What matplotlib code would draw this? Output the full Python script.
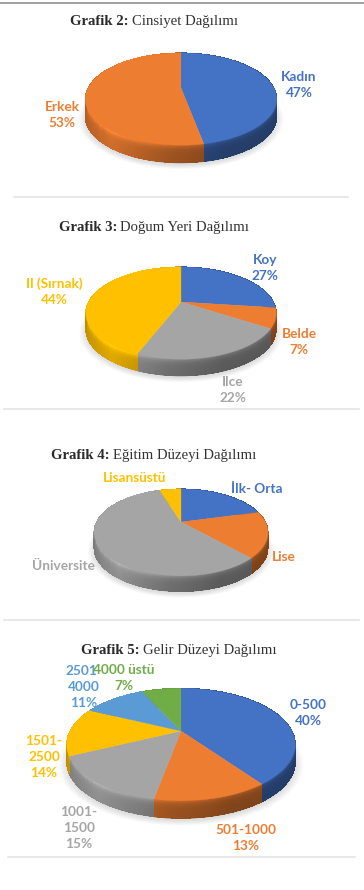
import matplotlib
matplotlib.use("Agg")
import matplotlib.pyplot as plt
import numpy as np
from matplotlib.collections import PolyCollection
from matplotlib.colors import to_rgb
from matplotlib.patches import Polygon

BLUE, ORANGE, GRAY, YELLOW, SKY, GREEN = "#4472C4", "#ED7D31", "#A5A5A5", "#FFC000", "#5B9BD5", "#70AD47"

gender_names = ["Kadın", "Erkek"]
gender_values = [47, 53]

birth_names = ["Koy", "Belde", "Ilce", "Il (Sırnak)"]
birth_values = [27, 7, 22, 44]

# this chart has no printed percentages, shares estimated from the slices
edu_names = ["İlk- Orta", "Lise", "Üniversite", "Lisansüstü"]
edu_values = [21, 17, 57, 5]

income_names = ["0-500", "501-1000", "1001-\n1500", "1501-\n2500", "2501-\n4000", "4000 üstü"]
income_values = [40, 13, 15, 14, 11, 7]

TILT = 0.24  # perspective strength of the disc


def disc_xy(t, cx, cy, r, b):
    """Clockwise angle from 12 o'clock to screen position on the tilted disc."""
    xx, yy = np.sin(t), np.cos(t)
    w = 1 + TILT * yy
    return cx + r * xx / w, cy - b * yy / w


def side_shade(xx):
    return np.interp(xx, [-1.0, -0.6, -0.1, 0.35, 1.0], [0.76, 0.9, 0.68, 0.56, 0.54])


def pie3d(ax, values, colors, cx, cy, r, b, depth):
    edges = np.r_[0, np.cumsum(values)] / np.sum(values) * 2 * np.pi

    # soft shadow under the disc
    tt = np.linspace(0, 2 * np.pi, 200)
    for grow in np.linspace(1.0, 1.07, 8):
        sx, sy = disc_xy(tt, cx, cy + depth + 2, r * grow, b * grow)
        ax.add_patch(Polygon(np.c_[sx, sy], fc="black", ec="none", alpha=0.014, zorder=1))

    # rim, cut in small quads so the shading can run along it; quads are not
    # antialiased (that gave stripes), a smooth underlay softens the lower edge
    quads, shades = [], []
    levels = np.linspace(0, depth - 0.5, 25)
    for i, col in enumerate(colors):
        n = max(int((edges[i + 1] - edges[i]) * 60), 2)
        tt = np.linspace(edges[i], edges[i + 1], n + 1)
        base = np.array(to_rgb(col))

        ux, uy = disc_xy(tt, cx, cy, r, b)
        shell = np.r_[np.c_[ux, uy], np.c_[ux, uy + depth][::-1]]
        ax.add_patch(Polygon(shell, fc=base * side_shade(np.sin(tt.mean())), ec="none", zorder=2))

        for t0, t1 in zip(tt[:-1], tt[1:]):
            x0, y0 = disc_xy(t0, cx, cy, r, b)
            x1, y1 = disc_xy(t1, cx, cy, r, b)
            f = side_shade(np.sin((t0 + t1) / 2))
            # paint from the bottom up, the bevel brightens toward the top edge
            for d0, d1 in zip(levels[-2::-1], levels[:0:-1]):
                k = 0.97 + 0.25 * np.exp(-d0 / 3.0)
                quads.append([(x0, y0 + d0), (x1, y1 + d0), (x1, y1 + d1), (x0, y0 + d1)])
                shades.append(np.clip(base * f * k, 0, 1))
    ax.add_collection(PolyCollection(quads, facecolors=shades, edgecolors="none", linewidths=0,
                                     antialiaseds=False, zorder=2.5))

    # top face
    for i, col in enumerate(colors):
        tt = np.linspace(edges[i], edges[i + 1], 120)
        px, py = disc_xy(tt, cx, cy, r, b)
        pts = np.r_[[(cx, cy)], np.c_[px, py]]
        ax.add_patch(Polygon(pts, fc=col, ec=col, lw=0.2, zorder=3))


def title(ax, y, x, bold, rest):
    t = ax.text(x, y, bold, family="Liberation Serif", weight="bold", fontsize=10.65,
                color="#2b2b2b", va="baseline", ha="left", zorder=6)
    box = t.get_window_extent(renderer=ax.figure.canvas.get_renderer())
    ax.text(x + box.width + 3, y, rest, family="Liberation Serif", fontsize=10.65,
            color="#333333", va="baseline", ha="left", zorder=6)


def labels(ax, names, values, colors, spots):
    for i, (name, col, (x, y)) in enumerate(zip(names, colors, spots)):
        txt = name if values is None else f"{name}\n{values[i]}%"
        ax.text(x, y, txt, family="Lato", weight="bold", fontsize=9.8, color=col, ha="center",
                va="center", linespacing=1.42, zorder=7)


fig = plt.figure(figsize=(3.64, 8.90), dpi=100)
ax = fig.add_axes([0, 0, 1, 1])
ax.set_xlim(0, 364)
ax.set_ylim(890, 0)
ax.axis("off")
fig.canvas.draw()

ax.plot([0, 364], [3, 3], color="#9a9a9a", lw=1.3, zorder=1)
for y, x0, x1 in [(197, 14, 348), (409, 4, 359), (620, 4, 359), (857, 8, 355)]:
    ax.plot([x0, x1], [y, y], color="#e2e2e2", lw=1.1, zorder=1)

title(ax, 25, 70, "Grafik 2:", "Cinsiyet Dağılımı")
pie3d(ax, gender_values, [BLUE, ORANGE], 181, 88, 93, 43.5, 18)
labels(ax, gender_names, gender_values, [BLUE, ORANGE], [(299, 85), (62, 115)])

title(ax, 231, 59, "Grafik 3:", "Doğum Yeri Dağılımı")
pie3d(ax, birth_values, [BLUE, ORANGE, GRAY, YELLOW], 181, 302, 92.5, 43.5, 17)
labels(ax, birth_names, birth_values, [BLUE, ORANGE, GRAY, YELLOW],
       [(265, 268), (299, 342), (233, 390), (54, 292)])

title(ax, 459, 51, "Grafik 4:", "Eğitim Düzeyi Dağılımı")
pie3d(ax, edu_values, [BLUE, ORANGE, GRAY, YELLOW], 181, 522, 84.5, 41, 16)
labels(ax, edu_names, None, [BLUE, ORANGE, GRAY, YELLOW],
       [(257, 489), (284, 557), (63, 566), (135, 478)])

title(ax, 654, 81, "Grafik 5:", "Gelir Düzeyi Dağılımı")
pie3d(ax, income_values, [BLUE, ORANGE, GRAY, YELLOW, SKY, GREEN], 181, 731, 111, 53, 18)
labels(ax, income_names, income_values, [BLUE, ORANGE, GRAY, YELLOW, SKY, GREEN],
       [(308, 713), (246, 838), (79, 828), (44, 757), (84, 687), (124, 678)])

fig.savefig("out.png", dpi=100)
plt.close(fig)
